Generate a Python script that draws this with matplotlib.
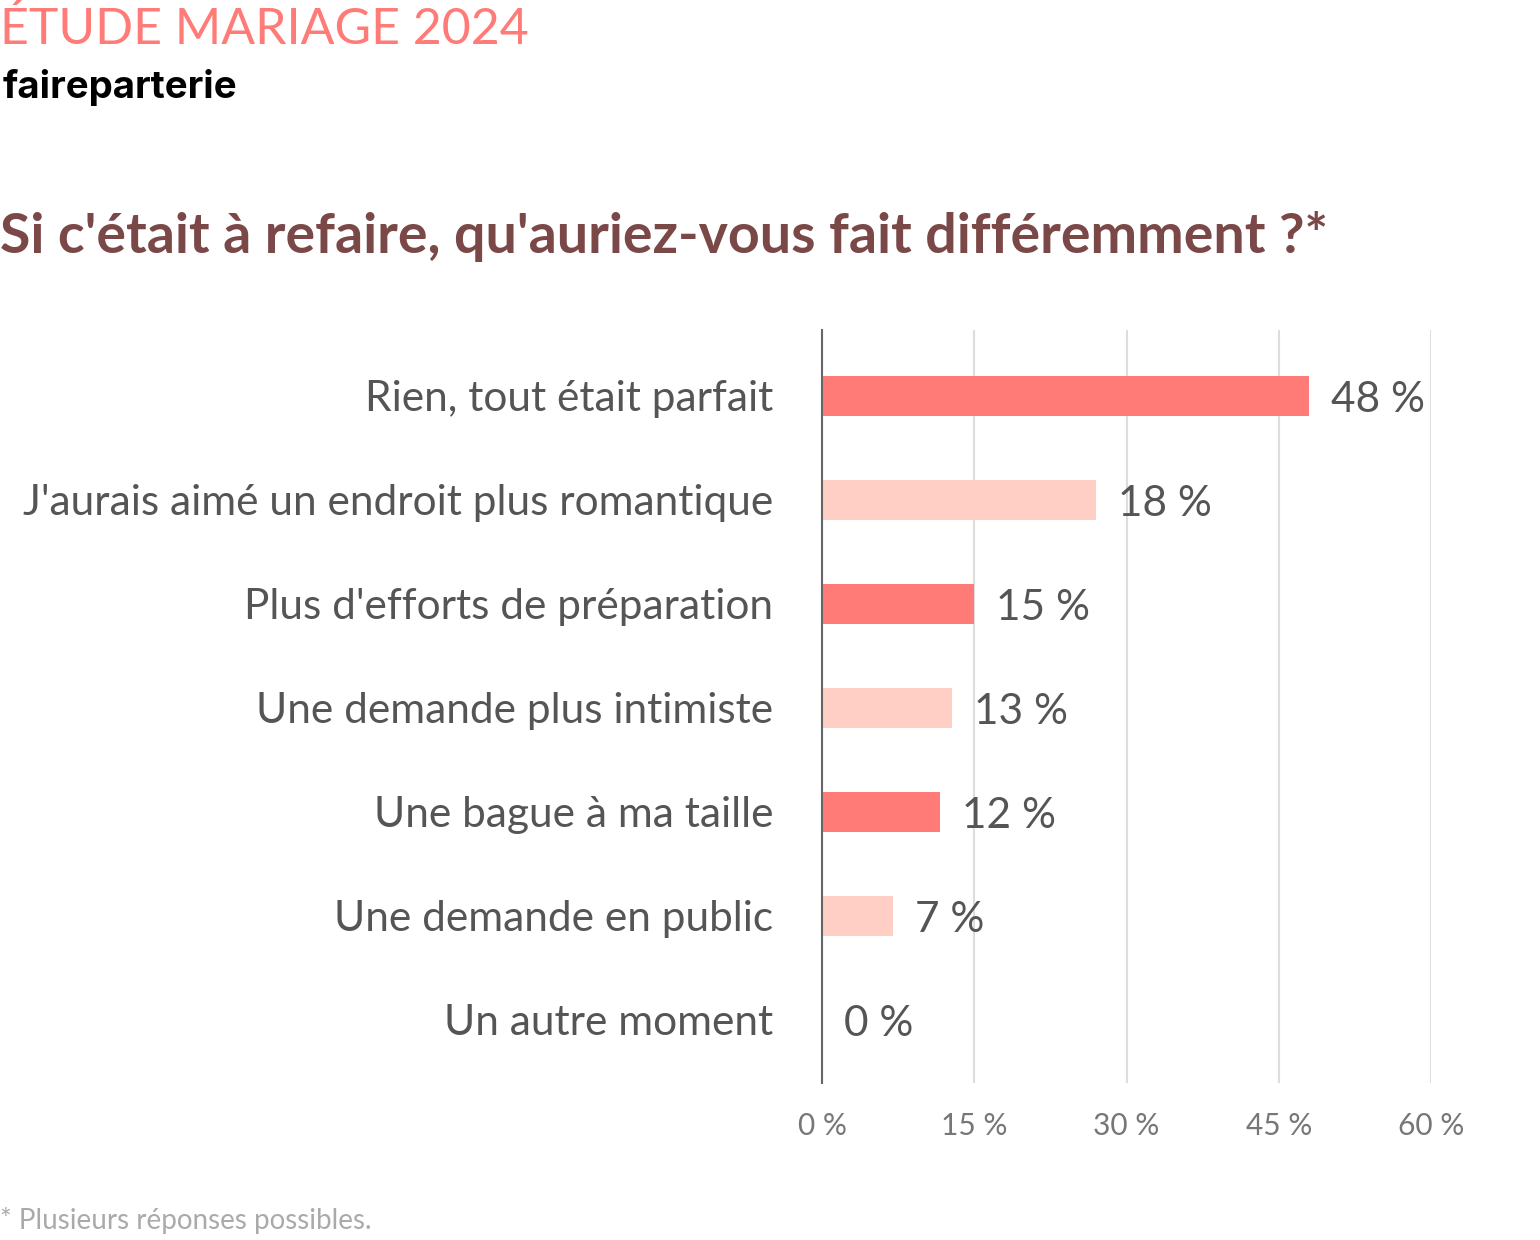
import matplotlib.pyplot as plt

# Données
categories = ["Rien, tout était parfait", "J'aurais aimé un endroit plus romantique",
              "Plus d'efforts de préparation", "Une demande plus intimiste",
              "Une bague à ma taille", "Une demande en public", "Un autre moment"]
longueurs = [48, 27, 15, 12.8, 11.6, 7, 0]   # longueur des barres telle que dessinée
etiquettes = ["48 %", "18 %", "15 %", "13 %", "12 %", "7 %", "0 %"]
ticks = [0, 15, 30, 45, 60]
tick_labels = ["0 %", "15 %", "30 %", "45 %", "60 %"]

plt.rcParams['font.family'] = ['Lato', 'DejaVu Sans']

fort = '#FF7B78'
pale = '#FFCFC6'
texte = '#555555'

fig = plt.figure(figsize=(15.4, 12.4), dpi=100)
ax = fig.add_axes([822 / 1540, 1 - 1083 / 1240, (1431 - 822) / 1540, (1083 - 330) / 1240])

y = list(range(len(categories)))
couleurs = [fort if i % 2 == 0 else pale for i in y]
ax.barh(y, longueurs, height=0.385, color=couleurs, zorder=2)

for i, (v, lab) in enumerate(zip(longueurs, etiquettes)):
    ax.annotate(lab, (v, i), xytext=(22, -4), textcoords='offset pixels',
                ha='left', va='center', fontsize=30.5, color=texte)

ax.set_xlim(0, 60)
ax.set_ylim(6.61, -0.635)
ax.set_xticks(ticks)
ax.set_xticklabels(tick_labels, fontsize=21.5, color='#777777')
ax.set_yticks(y)
ax.set_yticklabels(categories, fontsize=30.5, color=texte)
ax.tick_params(axis='y', length=0, pad=35)
ax.tick_params(axis='x', length=0, pad=21)
ax.grid(axis='x', color='#DDDDDD', linewidth=1.5, zorder=0)
for s in ['top', 'right', 'bottom']:
    ax.spines[s].set_visible(False)
ax.spines['left'].set_color('#666666')
ax.spines['left'].set_linewidth(1.5)
ax.spines['left'].set_zorder(3)

fig.text(0, 1 - 30 / 1240, "ÉTUDE MARIAGE 2024", fontsize=36, color=fort, va='center', ha='left')
fig.text(0.002, 1 - 88 / 1240, "faireparterie", fontsize=27.7, color='black', fontweight='bold',
         va='center', ha='left', family=['Inter', 'DejaVu Sans'])
fig.text(0, 1 - 237 / 1240, "Si c'était à refaire, qu'auriez-vous fait différemment ?*", fontsize=40,
         color='#7B4848', fontweight='bold', va='center', ha='left')
fig.text(0, 1 - 1220 / 1240, "* Plusieurs réponses possibles.", fontsize=20, color='#AAAAAA',
         va='center', ha='left')

fig.savefig('out.png', dpi=100)
